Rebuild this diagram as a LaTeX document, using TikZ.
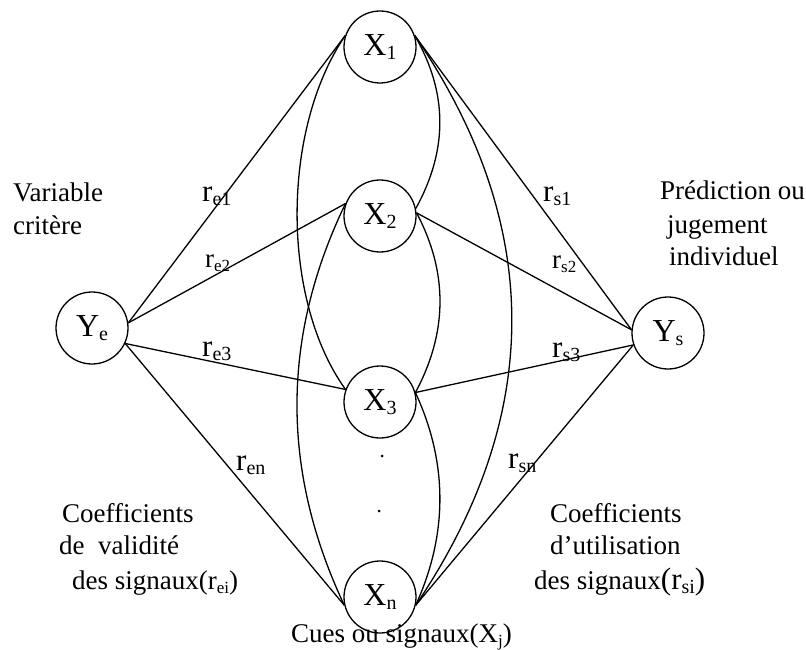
\documentclass[tikz,border=0pt]{standalone}
\usepackage{fontspec}
\setmainfont{Liberation Serif}
\newcommand{\lowsub}[2]{{\fontsize{#1}{#1}\selectfont\raisebox{-4pt}{#2}}}
\begin{document}
\begin{tikzpicture}[x=1pt,y=-1pt,
  cue/.style={circle,draw,line width=1.3pt,minimum size=72pt,inner sep=0pt,font=\fontsize{32}{32}\selectfont},
  lbl/.style={anchor=base west,inner sep=0pt,font=\fontsize{27}{33}\selectfont},
  rbig/.style={anchor=base west,inner sep=0pt,font=\fontsize{31}{31}\selectfont},
  rsmall/.style={anchor=base west,inner sep=0pt,font=\fontsize{27}{27}\selectfont},
  link/.style={line width=1.3pt},
  dotmark/.style={circle,fill,inner sep=0pt,minimum size=3pt}]
\useasboundingbox (0,0) rectangle (806,650);
% nodes
\node[cue] (X1) at (380,47) {X\lowsub{20}{1}};
\node[cue] (X2) at (380,216) {X\lowsub{20}{2}};
\node[cue] (X3) at (380,402) {X\lowsub{20}{3}};
\node[cue] (Xn) at (380,597) {X\lowsub{20}{n}};
\node[cue] (Ye) at (92,328) {Y\lowsub{20}{e}};
\node[cue] (Ys) at (668,333) {Y\lowsub{20}{s}};
\node[dotmark] (d1) at (382,456) {};
\node[dotmark] (d2) at (379,511) {};
% straight links
\draw[link] (Ye.8) -- (X1.162);
\draw[link] (Ye.8) -- (X2.160);
\draw[link] (Ye.-25) -- (X3.160);
\draw[link] (Ye.-25) -- (Xn.193);
\draw[link] (X1.18) -- (Ys.175);
\draw[link] (X2.5) -- (Ys.175);
\draw[link] (X3.15) -- (Ys.199);
\draw[link] (Xn.-13) -- (Ys.199);
% curved links between cues
\draw[link] (X1.162) .. controls (281,130) and (281,300) .. (X3.160);
\draw[link] (X2.160) .. controls (281,337) and (281,471) .. (Xn.193);
\draw[link] (X1.18) .. controls (448,93) and (448,150) .. (X2.12);
\draw[link] (X2.5) .. controls (448,272) and (448,332) .. (X3.15);
\draw[link] (X3.15) .. controls (448,463) and (448,534) .. (Xn.-13);
\draw[link] (X1.18) .. controls (544,225) and (544,415) .. (Xn.-13);
% coefficient labels
\node[rbig] (re1) at (202,201) {r\lowsub{20}{e1}};
\node[rsmall] (re2) at (205,267) {r\lowsub{17}{e2}};
\node[rbig] (re3) at (202,356) {r\lowsub{20}{e3}};
\node[rbig] (ren) at (236,470) {r\lowsub{20}{en}};
\node[rbig] (rs1) at (543,201) {r\lowsub{20}{s1}};
\node[rsmall] (rs2) at (552,268) {r\lowsub{17}{s2}};
\node[rbig] (rs3) at (552,357) {r\lowsub{20}{s3}};
\node[rbig] (rsn) at (508,468) {r\lowsub{20}{sn}};
% side texts
\node[lbl] (t1) at (13,201) {Variable};
\node[lbl] (t2) at (13,234) {critère};
\node[lbl] (t3) at (660,200) {Prédiction ou};
\node[lbl] (t4) at (667,233) {jugement};
\node[lbl] (t5) at (669,265) {individuel};
\node[lbl] (t6) at (62,522) {Coefficients};
\node[lbl] (t7) at (59,554) {de\ \ validité};
\node[lbl] (t8) at (72,589) {des signaux(r\lowsub{17}{ei})};
\node[lbl] (t9) at (550,522) {Coefficients};
\node[lbl] (t10) at (550,554) {d’utilisation};
\node[lbl] (t11) at (534,589) {des signaux{\fontsize{31}{31}\selectfont(r\lowsub{20}{si})}};
\node[lbl] (t12) at (291,642) {Cues ou signaux(X\lowsub{17}{j})};
\end{tikzpicture}
\end{document}
